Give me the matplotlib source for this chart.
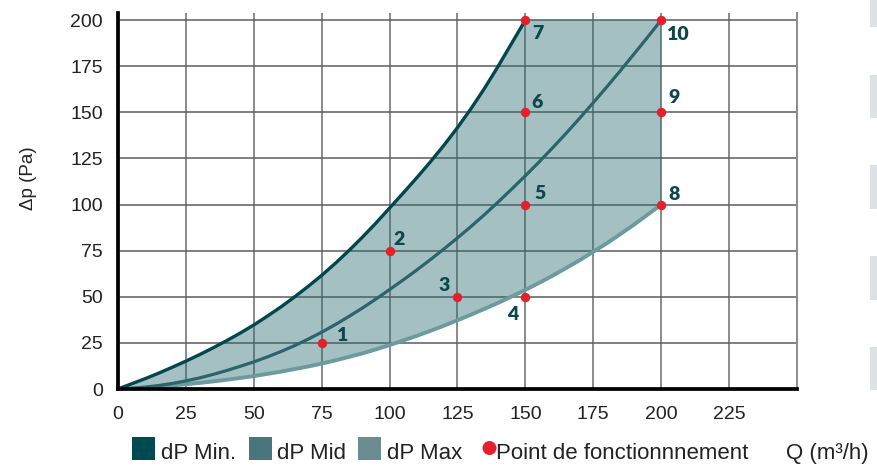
import numpy as np
import matplotlib
matplotlib.use("Agg")
import matplotlib.pyplot as plt
from matplotlib.patches import Rectangle, Ellipse

# ---------------- data ----------------
x_min = [0, 5, 10, 15, 20, 25, 30, 35, 40, 45, 50, 55, 60, 65, 70, 75, 80, 85,
         90, 95, 100, 105, 110, 115, 120, 125, 130, 135, 140, 145, 150]
dp_min = [0, 2.8, 5.6, 8.6, 11.8, 15.1, 18.6, 22.3, 26.2, 30.3, 34.7, 39.5,
          44.5, 49.9, 55.6, 61.6, 68.1, 75.0, 82.3, 90.0, 98.1, 106.2, 114.5,
          123.1, 132.1, 141.7, 152.0, 163.1, 175.0, 187.5, 200.0]

x_full = [0, 5, 10, 15, 20, 25, 30, 35, 40, 45, 50, 55, 60, 65, 70, 75, 80, 85,
          90, 95, 100, 105, 110, 115, 120, 125, 130, 135, 140, 145, 150, 155,
          160, 165, 170, 175, 180, 185, 190, 195, 200]
dp_mid = [0, 0.3, 1.0, 1.9, 3.0, 4.4, 6.0, 7.9, 10.0, 12.3, 14.7, 17.4, 20.3,
          23.5, 27.0, 30.8, 34.9, 39.3, 43.9, 48.8, 53.9, 59.1, 64.5, 70.1,
          75.9, 81.9, 88.1, 94.6, 101.4, 108.4, 115.6, 123.0, 130.7, 138.6,
          146.8, 155.2, 163.8, 172.6, 181.6, 190.7, 200.0]
dp_max = [0, 0.4, 0.8, 1.3, 1.9, 2.6, 3.3, 4.1, 5.0, 6.0, 7.0, 8.2, 9.4, 10.8,
          12.2, 13.8, 15.5, 17.4, 19.3, 21.5, 23.8, 26.3, 28.8, 31.5, 34.3,
          37.3, 40.3, 43.5, 46.7, 50.2, 53.7, 57.5, 61.4, 65.6, 69.8, 74.4,
          79.0, 84.0, 89.1, 94.5, 100.0]

pt_q = [75, 100, 125, 150, 150, 150, 150, 200, 200, 200]
pt_dp = [25, 75, 50, 50, 100, 150, 200, 100, 150, 200]
pt_labels = ["1", "2", "3", "4", "5", "6", "7", "8", "9", "10"]

x_ticks = [0, 25, 50, 75, 100, 125, 150, 175, 200, 225]
y_ticks = [0, 25, 50, 75, 100, 125, 150, 175, 200]

legend_labels = ["dP Min.", "dP Mid", "dP Max", "Point de fonctionnnement"]

# ---------------- style ----------------
W, H = 878, 467
C_MIN = "#01474d"
C_MID = "#2b646a"
C_MAX = "#6c9b9f"
C_FILL = "#2a6b72"
C_RED = "#e5202a"
C_LBL = "#0b474d"
LEG_MIN = "#004b50"
LEG_MID = "#48767c"
LEG_MAX = "#6b8d92"

# label offsets in pixels (dx, dy, ha, va)
lbl_style = [
    (14, 2, "left", "baseline"),
    (4, 6, "left", "baseline"),
    (-8, 6, "right", "baseline"),
    (-7, -9, "right", "top"),
    (9, 6, "left", "baseline"),
    (6, 4, "left", "baseline"),
    (7, -5, "left", "top"),
    (7, 5, "left", "baseline"),
    (7, 9, "left", "baseline"),
    (5, -6, "left", "top"),
]

plt.rcParams["font.family"] = ["Liberation Sans", "DejaVu Sans"]

fig = plt.figure(figsize=(W / 100, H / 100), dpi=100)
fig.patch.set_facecolor("white")


def fx(px):
    return px / W


def fy(py):
    return 1 - py / H


ax = fig.add_axes([fx(118), fy(389), fx(797) - fx(118), fy(13) - fy(389)])
ax.set_xlim(0, 250)
ax.set_ylim(0, 203.8)

# grid
for xv in x_ticks[1:]:
    ax.axvline(xv, color="#8a8a8a", lw=1.4, zorder=0.5)
for yv in y_ticks[1:]:
    ax.axhline(yv, color="#5c5c5c", lw=1.1, zorder=0.5)

# filled area
poly_x = np.concatenate([x_min, [x_full[-1], x_full[-1]], x_full[::-1]])
poly_y = np.concatenate([dp_min, [dp_min[-1], dp_max[-1]], dp_max[::-1]])
ax.fill(poly_x, poly_y, color=C_FILL, alpha=0.42, lw=0, zorder=1)

# curves
ax.plot(x_full, dp_max, color=C_MAX, lw=2.8, zorder=2, solid_capstyle="butt")
ax.plot(x_full, dp_mid, color=C_MID, lw=2.3, zorder=3, solid_capstyle="butt")
ax.plot(x_min, dp_min, color=C_MIN, lw=2.4, zorder=3, solid_capstyle="butt")

# operating points
ax.scatter(pt_q, pt_dp, s=46, color=C_RED, zorder=5, linewidths=0)
for q, d, t, (dx, dy, ha, va) in zip(pt_q, pt_dp, pt_labels, lbl_style):
    ax.annotate(t, (q, d), xytext=(dx, dy), textcoords="offset pixels",
                ha=ha, va=va, fontsize=14, fontweight="heavy", color=C_LBL,
                family=["Lato", "DejaVu Sans"], zorder=6)

# spines and ticks
ax.spines["top"].set_visible(False)
ax.spines["right"].set_color("#8a8a8a")
ax.spines["right"].set_linewidth(1.4)
for s in ("left", "bottom"):
    ax.spines[s].set_color("black")
    ax.spines[s].set_linewidth(2.7)
    ax.spines[s].set_zorder(4)
ax.set_xticks(x_ticks)
ax.set_yticks(y_ticks)
ax.set_xticklabels([str(v) for v in x_ticks])
ax.set_yticklabels([str(v) for v in y_ticks])
ax.tick_params(axis="x", length=0, pad=12, labelsize=14, labelcolor="#222222")
ax.tick_params(axis="y", length=0, pad=11, labelsize=14, labelcolor="#222222")

fig.text(fx(29), fy(178), "Δp (Pa)", rotation=90, ha="center", va="center",
         fontsize=13.5, color="#222222")

# legend (manual)
sq = [(132, LEG_MIN, 161), (249, LEG_MID, 277), (358, LEG_MAX, 387)]
for (x0, c, tx), lab in zip(sq, legend_labels[:3]):
    fig.patches.append(Rectangle((fx(x0), fy(460)), fx(23), fy(437) - fy(460),
                                 transform=fig.transFigure, color=c, lw=0))
    fig.text(fx(tx), fy(459), lab, ha="left", va="baseline", fontsize=16,
             color="#222222")
fig.patches.append(Ellipse((fx(489.5), fy(448)), fx(14), fy(441) - fy(455),
                           transform=fig.transFigure, color=C_RED, lw=0))
fig.text(fx(496), fy(459), legend_labels[3], ha="left", va="baseline",
         fontsize=16, color="#222222")
fig.text(fx(869), fy(459), "Q (m³/h)", ha="right", va="baseline",
         fontsize=16, color="#222222")

# decorative stripes at right edge
for y0, y1 in [(0, 27), (75, 118), (165, 209), (256, 300), (347, 390)]:
    fig.patches.append(Rectangle((fx(870), fy(y1)), fx(8), fy(y0) - fy(y1),
                                 transform=fig.transFigure, color="#dde2e5",
                                 lw=0))

fig.savefig("out.png", dpi=100)
